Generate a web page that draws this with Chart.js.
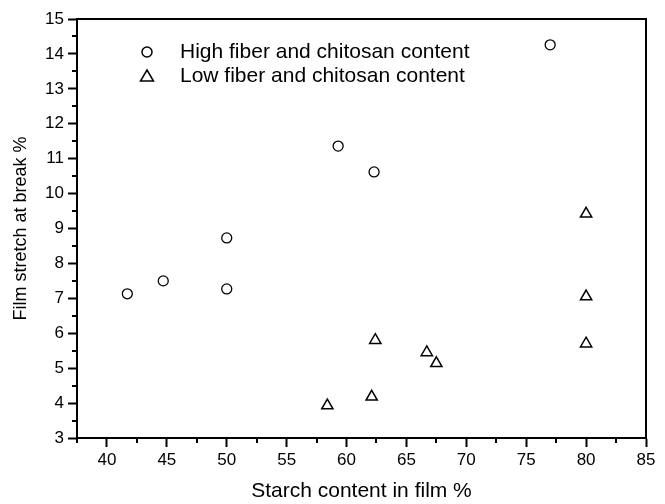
<!DOCTYPE html>
<html>
<head>
<meta charset="utf-8">
<script src="https://cdn.jsdelivr.net/npm/chart.js@4.4.1/dist/chart.umd.min.js"></script>
<style>
  html, body { margin: 0; padding: 0; background: #fff; }
  #wrap { width: 665px; height: 504px; }
</style>
</head>
<body>
<div id="wrap"><canvas id="c" width="665" height="504"></canvas></div>
<script>
// Data
const seriesNames = ["High fiber and chitosan content", "Low fiber and chitosan content"];
const highStarch = [41.7, 44.7, 50.0, 50.0, 59.3, 62.3, 77.0];
const highStretch = [7.13, 7.50, 7.27, 8.73, 11.36, 10.62, 14.26];
const lowStarch = [58.4, 62.1, 62.4, 66.7, 67.5, 80.0, 80.0, 80.0];
const lowStretch = [3.93, 4.18, 5.80, 5.45, 5.14, 9.42, 7.05, 5.70];
const xTicks = [40, 45, 50, 55, 60, 65, 70, 75, 80, 85];
const yTicks = [3, 4, 5, 6, 7, 8, 9, 10, 11, 12, 13, 14, 15];
const xTitle = "Starch content in film %";
const yTitle = "Film stretch at break %";

const FONT = "'Liberation Sans', Arial, Helvetica, sans-serif";

const toPoints = (xs, ys) => xs.map((x, i) => ({ x: x, y: ys[i] }));

// Frame box + minor ticks
const framePlugin = {
  id: 'frame',
  afterDraw(chart) {
    const ctx = chart.ctx;
    const a = chart.chartArea;
    const xs = chart.scales.x, ys = chart.scales.y;
    ctx.save();
    ctx.strokeStyle = '#000';
    ctx.lineWidth = 2;
    ctx.strokeRect(a.left, a.top, a.right - a.left, a.bottom - a.top);
    ctx.beginPath();
    for (let v = xs.min; v <= xs.max + 1e-9; v += 2.5) {
      if (Math.abs(v / 5 - Math.round(v / 5)) < 1e-6) continue;
      const px = Math.round(xs.getPixelForValue(v));
      ctx.moveTo(px, a.bottom);
      ctx.lineTo(px, a.bottom + 5);
    }
    for (let v = ys.min; v <= ys.max + 1e-9; v += 0.5) {
      if (Math.abs(v - Math.round(v)) < 1e-6) continue;
      const py = Math.round(ys.getPixelForValue(v));
      ctx.moveTo(a.left, py);
      ctx.lineTo(a.left - 5, py);
    }
    ctx.stroke();
    ctx.restore();
  }
};

// Legend inside plot area
const legendPlugin = {
  id: 'innerLegend',
  afterDraw(chart) {
    const ctx = chart.ctx;
    const a = chart.chartArea;
    const x0 = a.left + 70, y0 = a.top + 33, dy = 24;
    ctx.save();
    ctx.strokeStyle = '#000';
    ctx.fillStyle = '#000';
    ctx.lineWidth = 1.5;
    ctx.beginPath();
    ctx.arc(x0, y0, 5, 0, Math.PI * 2);
    ctx.stroke();
    const ty = y0 + dy;
    ctx.beginPath();
    ctx.moveTo(x0, ty - 6);
    ctx.lineTo(x0 + 6.5, ty + 5);
    ctx.lineTo(x0 - 6.5, ty + 5);
    ctx.closePath();
    ctx.stroke();
    ctx.font = '21px ' + FONT;
    ctx.textBaseline = 'middle';
    ctx.textAlign = 'left';
    ctx.fillText(seriesNames[0], x0 + 33, y0);
    ctx.fillText(seriesNames[1], x0 + 33, ty);
    ctx.restore();
  }
};

new Chart(document.getElementById('c'), {
  type: 'scatter',
  data: {
    datasets: [
      {
        label: seriesNames[0],
        data: toPoints(highStarch, highStretch),
        pointStyle: 'circle',
        pointRadius: 5,
        pointHoverRadius: 5,
        borderColor: '#000',
        backgroundColor: 'rgba(255,255,255,0)',
        borderWidth: 1.3
      },
      {
        label: seriesNames[1],
        data: toPoints(lowStarch, lowStretch),
        pointStyle: 'triangle',
        pointRadius: 6.5,
        pointHoverRadius: 6.5,
        borderColor: '#000',
        backgroundColor: 'rgba(255,255,255,0)',
        borderWidth: 1.5
      }
    ]
  },
  options: {
    responsive: false,
    animation: false,
    devicePixelRatio: 1,
    layout: { padding: { top: 19, right: 19, left: 0, bottom: 0 } },
    plugins: {
      legend: { display: false },
      tooltip: { enabled: false }
    },
    scales: {
      x: {
        type: 'linear',
        min: 37.5,
        max: 85,
        afterBuildTicks(scale) { scale.ticks = xTicks.map(v => ({ value: v })); },
        afterFit(scale) { scale.height = 66; },
        border: { display: true, color: '#000', width: 2 },
        grid: { drawOnChartArea: false, drawTicks: true, tickLength: 9, tickWidth: 2, tickColor: '#000' },
        ticks: { color: '#000', font: { family: FONT, size: 17 }, padding: 3, maxRotation: 0 },
        title: { display: true, text: xTitle, color: '#000', font: { family: FONT, size: 21 }, padding: { top: 8, bottom: 0 } }
      },
      y: {
        type: 'linear',
        min: 3,
        max: 15,
        afterBuildTicks(scale) { scale.ticks = yTicks.map(v => ({ value: v })); },
        afterFit(scale) { scale.width = 77; },
        border: { display: true, color: '#000', width: 2 },
        grid: { drawOnChartArea: false, drawTicks: true, tickLength: 9, tickWidth: 2, tickColor: '#000' },
        ticks: { color: '#000', font: { family: FONT, size: 17 }, padding: 4 },
        title: { display: true, text: yTitle, color: '#000', font: { family: FONT, size: 18 }, padding: { top: 10, bottom: 0 } }
      }
    }
  },
  plugins: [framePlugin, legendPlugin]
});
</script>
</body>
</html>
